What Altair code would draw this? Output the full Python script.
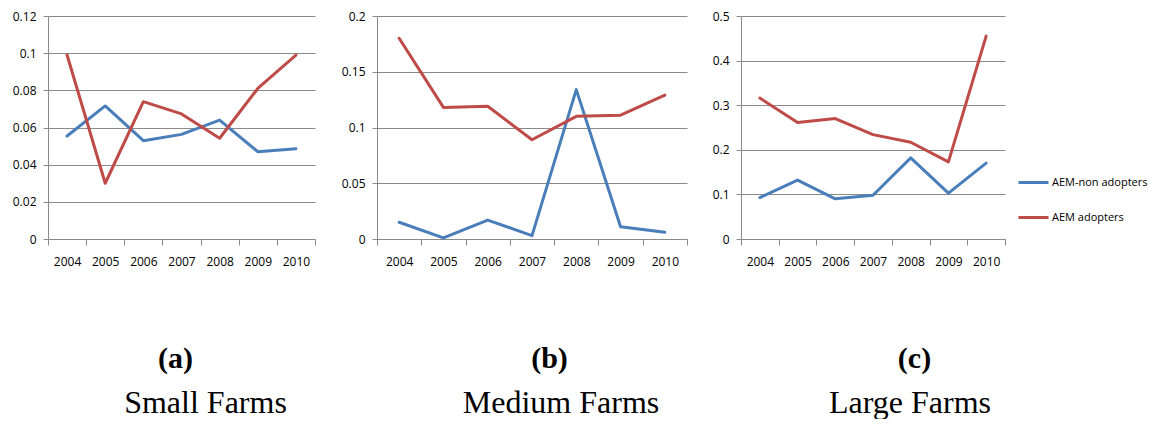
import altair as alt
import pandas as pd

years = ["2004", "2005", "2006", "2007", "2008", "2009", "2010"]
series_names = ["AEM-non adopters", "AEM adopters"]
series_colors = ["#4a7ebb", "#be4b48"]

small_non = [0.0554, 0.0716, 0.0529, 0.0563, 0.0640, 0.0470, 0.0486]
small_adopt = [0.0990, 0.0300, 0.0739, 0.0673, 0.0542, 0.0810, 0.0990]
medium_non = [0.015, 0.001, 0.017, 0.003, 0.134, 0.011, 0.006]
medium_adopt = [0.180, 0.118, 0.119, 0.089, 0.110, 0.111, 0.129]
large_non = [0.093, 0.132, 0.090, 0.098, 0.182, 0.103, 0.170]
large_adopt = [0.316, 0.261, 0.270, 0.234, 0.217, 0.173, 0.455]

small_ticks = [0, 0.02, 0.04, 0.06, 0.08, 0.1, 0.12]
medium_ticks = [0, 0.05, 0.1, 0.15, 0.2]
large_ticks = [0, 0.1, 0.2, 0.3, 0.4, 0.5]

letters = ["(a)", "(b)", "(c)"]
names = ["Small Farms", "Medium Farms", "Large Farms"]

GRID = "#8a8a8a"


def frame(non, adopt):
    rows = []
    for y, v in zip(years, non):
        rows.append({"year": y, "series": series_names[0], "value": v})
    for y, v in zip(years, adopt):
        rows.append({"year": y, "series": series_names[1], "value": v})
    return pd.DataFrame(rows)


def panel(df, width, ticks, letter, name, extent, title_x, title_dx):
    return (
        alt.Chart(df)
        .mark_line(strokeWidth=3, strokeJoin="round", strokeCap="round")
        .encode(
            x=alt.X(
                "year:O",
                bandPosition=0.5,
                scale=alt.Scale(type="band", paddingInner=0, paddingOuter=0),
                axis=alt.Axis(
                    labelAngle=0,
                    tickBand="extent",
                    tickSize=6,
                    labelPadding=11,
                    labelFont="Open Sans",
                    labelFontSize=12,
                    labelColor="#000000",
                    domainColor=GRID,
                    tickColor=GRID,
                    grid=False,
                    title=letter,
                    titleFont="Liberation Serif",
                    titleFontSize=30,
                    titleFontWeight="bold",
                    titleColor="#000000",
                    titleX=title_x,
                    titleY=119,
                    titleAlign="center",
                    titleBaseline="middle",
                ),
            ),
            y=alt.Y(
                "value:Q",
                scale=alt.Scale(domain=[ticks[0], ticks[-1]], nice=False),
                axis=alt.Axis(
                    values=ticks,
                    labelExpr="'' + datum.value",
                    grid=True,
                    gridColor=GRID,
                    domainColor=GRID,
                    tickColor=GRID,
                    tickSize=5,
                    labelPadding=7,
                    labelFont="Open Sans",
                    labelFontSize=12,
                    labelColor="#000000",
                    minExtent=extent,
                    maxExtent=extent,
                    title=None,
                ),
            ),
            color=alt.Color(
                "series:N",
                sort=series_names,
                scale=alt.Scale(domain=series_names, range=series_colors),
                legend=alt.Legend(
                    title=None,
                    orient="none",
                    legendX=969,
                    legendY=150,
                    symbolType="stroke",
                    symbolSize=900,
                    symbolStrokeWidth=3,
                    labelFont="Open Sans",
                    labelFontSize=11,
                    labelColor="#000000",
                    labelOffset=2,
                    rowPadding=12,
                ),
            ),
        )
        .properties(
            width=width,
            height=223,
            title=alt.TitleParams(
                name,
                orient="bottom",
                anchor="middle",
                font="Liberation Serif",
                fontSize=32,
                fontWeight="normal",
                color="#000000",
                dx=title_dx,
                offset=15,
            ),
        )
    )


pa = panel(frame(small_non, small_adopt), 267, small_ticks, letters[0], names[0], 40, 127, 24)
pb = panel(frame(medium_non, medium_adopt), 310, medium_ticks, letters[1], names[1], 48, 172, 29)
pc = panel(frame(large_non, large_adopt), 264, large_ticks, letters[2], names[2], 40, 173, 37)

chart = (
    alt.hconcat(pa, pb, pc, spacing=13)
    .properties(padding={"left": 0, "top": 2, "right": 0, "bottom": 0}, background="#ffffff")
    .configure_view(stroke=None)
)

chart.save("out.html", embed_options={"renderer": "svg", "actions": False})
